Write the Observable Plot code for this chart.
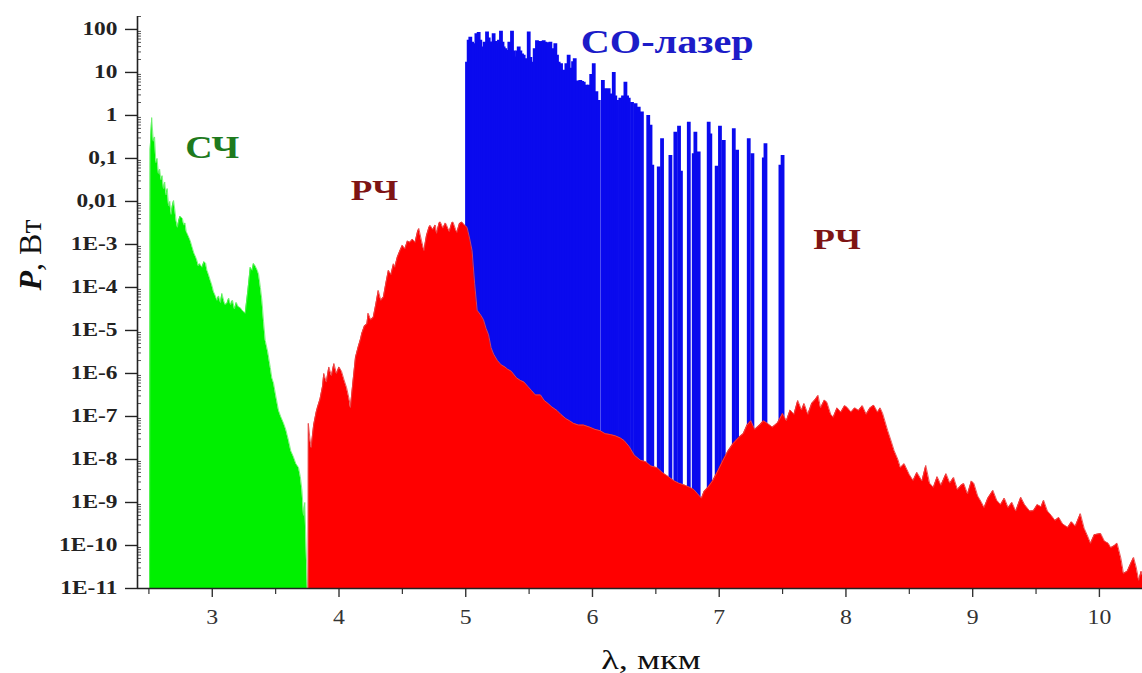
<!DOCTYPE html>
<html>
<head>
<meta charset="utf-8">
<script src="https://cdn.jsdelivr.net/npm/d3@7"></script>
<script src="https://cdn.jsdelivr.net/npm/@observablehq/plot@0.6"></script>
<style>
  html, body { margin: 0; padding: 0; background: #fff; }
  svg { display: block; }
</style>
</head>
<body>
<div id="chart"></div>
<script>
// Emission spectra: [wavelength, µm ; log10 of power, W]
// СЧ — sum-frequency band
const sumFreq = [
  [2.505,-11],[2.510,-0.8],[2.522,-0.05],[2.535,-0.6],[2.545,-0.5],[2.555,-1.1],[2.565,-1.0],
  [2.575,-1.35],[2.585,-1.25],[2.595,-1.5],[2.605,-1.4],[2.615,-1.7],[2.625,-1.55],[2.635,-1.85],
  [2.645,-1.7],[2.655,-2.1],[2.665,-2.0],[2.675,-2.3],[2.685,-2.1],[2.695,-1.98],[2.705,-2.2],
  [2.715,-2.45],[2.725,-2.6],[2.735,-2.45],[2.745,-2.35],[2.755,-2.37],[2.765,-2.4],[2.775,-2.55],
  [2.785,-2.5],[2.795,-2.7],[2.81,-2.8],[2.826,-2.91],[2.84,-3.05],[2.855,-3.2],[2.87,-3.3],
  [2.879,-3.37],[2.89,-3.5],[2.90,-3.45],[2.919,-3.53],[2.935,-3.4],[2.948,-3.44],[2.958,-3.6],
  [2.97,-3.7],[2.985,-3.84],[2.997,-3.95],[3.01,-4.1],[3.025,-4.2],[3.037,-4.3],[3.05,-4.2],
  [3.065,-4.35],[3.076,-4.14],[3.09,-4.3],[3.10,-4.4],[3.116,-4.37],[3.13,-4.25],[3.145,-4.4],
  [3.16,-4.3],[3.175,-4.5],[3.19,-4.35],[3.205,-4.45],[3.221,-4.47],[3.24,-4.55],[3.26,-4.6],
  [3.28,-4.1],[3.30,-3.53],[3.315,-3.6],[3.325,-3.44],[3.339,-3.5],[3.355,-3.6],[3.366,-3.7],
  [3.38,-4.0],[3.392,-4.3],[3.405,-4.8],[3.418,-5.23],[3.438,-5.5],[3.458,-5.86],[3.47,-6.1],
  [3.484,-6.23],[3.50,-6.5],[3.523,-6.86],[3.54,-7.0],[3.563,-7.16],[3.58,-7.3],[3.602,-7.56],
  [3.62,-7.8],[3.642,-7.95],[3.66,-8.1],[3.681,-8.19],[3.695,-8.4],[3.708,-8.72],[3.72,-9.3],
  [3.73,-9.0],[3.745,-10.5],[3.75,-11]
];

// РЧ — difference-frequency band
const diffFreq = [
  [3.757,-11],[3.758,-7.16],[3.77,-7.5],[3.78,-7.72],[3.80,-7.2],[3.82,-6.9],[3.83,-6.79],
  [3.85,-6.6],[3.87,-6.3],[3.88,-6.0],[3.90,-6.2],[3.92,-5.85],[3.94,-6.05],[3.96,-5.77],
  [3.98,-6.0],[4.00,-5.85],[4.02,-5.95],[4.04,-6.15],[4.06,-6.33],[4.08,-6.6],[4.09,-6.79],
  [4.11,-6.2],[4.13,-5.63],[4.15,-5.4],[4.17,-5.2],[4.18,-5.07],[4.20,-4.9],[4.22,-4.85],
  [4.23,-4.6],[4.25,-4.75],[4.27,-4.7],[4.29,-4.4],[4.31,-4.07],[4.33,-4.3],[4.35,-4.23],
  [4.37,-3.9],[4.39,-3.6],[4.41,-3.7],[4.43,-3.45],[4.44,-3.53],[4.46,-3.3],[4.48,-3.15],
  [4.50,-3.02],[4.52,-3.1],[4.54,-2.92],[4.56,-2.95],[4.58,-2.88],[4.60,-2.95],[4.62,-2.7],
  [4.63,-2.63],[4.65,-2.9],[4.67,-3.14],[4.69,-2.8],[4.71,-2.6],[4.72,-2.56],[4.74,-2.65],
  [4.76,-2.55],[4.77,-2.74],[4.79,-2.5],[4.80,-2.48],[4.82,-2.62],[4.84,-2.5],[4.85,-2.56],
  [4.87,-2.7],[4.89,-2.5],[4.90,-2.48],[4.92,-2.65],[4.93,-2.72],[4.95,-2.52],[4.97,-2.48],
  [4.99,-2.55],[5.01,-2.6],[5.03,-2.85],[5.05,-3.14],[5.07,-3.9],[5.09,-4.53],[5.12,-4.65],
  [5.14,-4.75],[5.16,-4.95],[5.18,-5.1],[5.20,-5.4],[5.22,-5.55],[5.25,-5.7],[5.28,-5.8],
  [5.31,-5.85],[5.33,-5.9],[5.36,-5.95],[5.40,-6.1],[5.43,-6.16],[5.46,-6.2],[5.49,-6.3],
  [5.52,-6.4],[5.55,-6.5],[5.59,-6.5],[5.62,-6.63],[5.65,-6.7],[5.68,-6.78],[5.72,-6.86],
  [5.75,-6.95],[5.79,-7.05],[5.82,-7.1],[5.85,-7.16],[5.89,-7.2],[5.93,-7.2],[5.98,-7.25],
  [6.02,-7.3],[6.06,-7.33],[6.10,-7.4],[6.14,-7.42],[6.18,-7.45],[6.22,-7.5],[6.25,-7.56],
  [6.29,-7.7],[6.33,-7.9],[6.38,-8.02],[6.42,-8.05],[6.46,-8.15],[6.51,-8.19],[6.55,-8.3],
  [6.60,-8.4],[6.64,-8.49],[6.68,-8.55],[6.73,-8.6],[6.77,-8.65],[6.80,-8.7],[6.83,-8.8],
  [6.86,-8.9],[6.88,-8.75],[6.91,-8.65],[6.95,-8.49],[6.99,-8.26],[7.03,-8.02],[7.07,-7.8],
  [7.11,-7.63],[7.15,-7.5],[7.19,-7.4],[7.22,-7.2],[7.25,-7.1],[7.28,-7.3],[7.32,-7.2],
  [7.35,-7.1],[7.38,-7.16],[7.42,-7.25],[7.46,-7.15],[7.50,-6.93],[7.53,-7.1],[7.56,-6.85],
  [7.59,-6.95],[7.62,-6.63],[7.65,-6.85],[7.67,-6.7],[7.70,-6.95],[7.73,-6.7],[7.76,-6.6],
  [7.78,-6.51],[7.80,-6.8],[7.83,-6.62],[7.85,-6.67],[7.88,-6.95],[7.90,-7.02],[7.93,-6.8],
  [7.96,-6.9],[7.99,-6.75],[8.01,-6.79],[8.04,-6.9],[8.07,-6.8],[8.10,-6.86],[8.13,-6.75],
  [8.16,-6.95],[8.19,-6.8],[8.22,-6.74],[8.25,-6.9],[8.27,-6.8],[8.29,-6.93],[8.33,-7.33],
  [8.36,-7.6],[8.38,-7.79],[8.41,-8.0],[8.43,-8.19],[8.46,-8.1],[8.50,-8.35],[8.53,-8.49],
  [8.56,-8.3],[8.60,-8.5],[8.63,-8.14],[8.66,-8.55],[8.69,-8.65],[8.72,-8.4],[8.75,-8.6],
  [8.79,-8.33],[8.82,-8.55],[8.85,-8.42],[8.88,-8.7],[8.91,-8.6],[8.93,-8.56],[8.96,-8.8],
  [8.99,-8.5],[9.01,-8.56],[9.04,-8.85],[9.07,-9.0],[9.09,-9.12],[9.12,-8.9],[9.16,-8.72],
  [9.19,-8.95],[9.22,-9.05],[9.25,-8.9],[9.28,-9.12],[9.31,-9.0],[9.34,-9.2],[9.38,-8.88],
  [9.41,-9.05],[9.45,-9.2],[9.48,-9.19],[9.51,-9.05],[9.54,-9.1],[9.56,-8.95],[9.59,-9.2],
  [9.62,-9.3],[9.65,-9.42],[9.68,-9.35],[9.71,-9.5],[9.75,-9.58],[9.78,-9.45],[9.81,-9.55],
  [9.85,-9.26],[9.88,-9.6],[9.91,-9.8],[9.93,-9.95],[9.96,-9.75],[10.01,-9.72],[10.04,-9.9],
  [10.07,-9.95],[10.09,-10.05],[10.12,-10.0],[10.14,-9.95],[10.17,-10.3],[10.19,-10.65],
  [10.22,-10.6],[10.25,-10.4],[10.27,-10.28],[10.29,-10.5],[10.31,-10.81],[10.33,-10.6],[10.34,-10.7]
];

// CO-laser lines: [wavelength, µm ; log10 of line power, W]
const coLines = [
  [5.010,1.24],[5.023,1.75],[5.036,1.82],[5.050,1.70],[5.063,1.67],[5.084,1.90],[5.102,1.93],
  [5.115,1.75],[5.128,1.59],[5.149,1.70],[5.168,1.94],[5.181,1.80],[5.194,1.71],[5.207,1.60],
  [5.220,1.90],[5.235,1.72],[5.247,1.67],[5.262,1.75],[5.278,1.96],[5.290,1.70],[5.299,1.59],
  [5.312,1.55],[5.326,1.51],[5.344,1.70],[5.365,1.96],[5.378,1.50],[5.391,1.36],[5.405,1.50],
  [5.418,1.59],[5.431,1.50],[5.444,1.43],[5.457,1.40],[5.470,1.32],[5.484,1.30],[5.497,1.94],
  [5.510,1.35],[5.523,1.24],[5.544,1.55],[5.562,1.74],[5.575,1.72],[5.589,1.70],[5.602,1.72],
  [5.615,1.74],[5.628,1.70],[5.641,1.67],[5.655,1.69],[5.668,1.70],[5.689,1.55],[5.707,1.67],
  [5.720,1.40],[5.733,1.24],[5.752,1.20],[5.773,1.05],[5.794,1.20],[5.812,1.40],[5.833,1.10],
  [5.847,1.25],[5.860,1.32],[5.883,0.80],[5.904,0.81],[5.918,0.79],[5.931,0.77],[5.952,0.70],
  [5.970,0.70],[5.990,0.95],[6.010,1.20],[6.031,0.55],[6.050,0.35],[6.082,0.81],[6.100,0.62],
  [6.128,0.62],[6.147,0.50],[6.168,1.00],[6.180,0.45],[6.194,0.35],[6.220,0.40],[6.241,0.45],
  [6.260,0.77],[6.273,0.45],[6.286,0.40],[6.312,0.30],
  [6.340,0.27],[6.365,0.19],[6.390,0.08],[6.440,0.00],[6.458,-0.23],[6.472,-1.16],[6.523,-1.20],
  [6.549,-0.54],[6.615,-0.93],[6.654,-0.39],[6.683,-0.25],[6.698,-1.30],[6.760,-0.16],[6.799,-0.89],
  [6.812,-0.39],[6.838,-0.85],[6.917,-0.16],[6.930,-0.43],[6.980,-1.18],[7.006,-0.25],[7.036,-0.58],
  [7.115,-0.31],[7.141,-0.81],[7.233,-0.54],[7.262,-0.89],[7.352,-0.99],[7.365,-0.66],[7.483,-1.16],
  [7.500,-0.93]
];

// Axis ticks
const xTicks = [3, 4, 5, 6, 7, 8, 9, 10];
const xHalfTicks = [2.5, 3.5, 4.5, 5.5, 6.5, 7.5, 8.5, 9.5];
const yTickExponents = [2, 1, 0, -1, -2, -3, -4, -5, -6, -7, -8, -9, -10, -11];
const yTickLabels = ["100", "10", "1", "0,1", "0,01", "1E-3", "1E-4", "1E-5", "1E-6",
                     "1E-7", "1E-8", "1E-9", "1E-10", "1E-11"];

// Band annotations: [text, wavelength, log10 power]
const bandNames = ["СЧ", "РЧ", "РЧ", "СО-лазер"];
const bandAt = [[3.0, -0.77], [4.28, -1.74], [7.93, -2.88], [6.59, 1.70]];

const xDomain = [2.41, 10.34];
const yBottom = 1e-11;
const P = d => 10 ** d[1];
const serif = "'Liberation Serif', 'Times New Roman', Times, serif";

const yMinor = [];
for (let k = -11; k <= 2; k++) for (let m = 2; m <= 9; m++) if (m * 10 ** k <= 200) yMinor.push(m * 10 ** k);

const labelRows = bandNames.map((t, i) => ({text: t, x: bandAt[i][0], y: 10 ** bandAt[i][1], i}));
const labelColor = ["#1e7a1e", "#7e1414", "#7e1414", "#1c1cc8"];
const labelSize = [31, 29, 29, 33];

const chart = Plot.plot({
  width: 1142,
  height: 673,
  marginLeft: 137,
  marginRight: 0,
  marginTop: 16,
  marginBottom: 85,
  style: {fontFamily: serif, background: "#fff"},
  x: {domain: xDomain},
  y: {type: "log", domain: [yBottom, 200]},
  marks: [
    Plot.areaY(sumFreq, {x: d => d[0], y1: yBottom, y2: P, fill: "#00f000"}),
    Plot.lineY(sumFreq, {x: d => d[0], y: P, stroke: "#66f066", strokeWidth: 0.8}),
    Plot.ruleX(coLines, {x: d => d[0], y1: yBottom, y2: P, stroke: "#0a0aee", strokeWidth: 3.8}),
    Plot.areaY(diffFreq, {x: d => d[0], y1: yBottom, y2: P, fill: "#ff0000"}),
    Plot.lineY(diffFreq, {x: d => d[0], y: P, stroke: "#e84848", strokeWidth: 0.9}),

    // axes
    Plot.axisX({ticks: xTicks, tickSize: 9, tickPadding: 11, fontSize: 22, fill: "#333",
                stroke: "#333", strokeWidth: 1.4, label: null, fontFamily: serif}),
    Plot.axisX({ticks: xHalfTicks, tickSize: 6, tickFormat: () => "", label: null,
                stroke: "#333", strokeWidth: 1.2}),
    Plot.axisY({ticks: yTickExponents.map(e => 10 ** e), tickSize: 12, tickPadding: 8,
                tickFormat: v => yTickLabels[yTickExponents.indexOf(Math.round(Math.log10(v)))],
                fontSize: 18, fontWeight: "bold", fill: "#222", stroke: "#222", strokeWidth: 1.4,
                label: null, fontFamily: serif}),
    Plot.axisY({ticks: yMinor, tickSize: 4, dx: 4, tickFormat: () => "", label: null,
                stroke: "#444", strokeWidth: 0.9}),
    Plot.ruleX([xDomain[0]], {stroke: "#222", strokeWidth: 1.6}),
    Plot.ruleY([yBottom], {stroke: "#222", strokeWidth: 1.6}),

    // band names
    Plot.text(labelRows, {x: "x", y: "y", text: "text", fontWeight: "bold", fontFamily: serif,
      fill: d => labelColor[d.i], fontSize: d => labelSize[d.i], className: "band-label"}),

    // axis titles
    Plot.text(["λ, мкм"], {frameAnchor: "bottom", dx: 11, dy: 80, lineAnchor: "bottom",
      fontSize: 28, fill: "#111", fontFamily: serif, className: "x-title"}),
    Plot.text(["P, Вт"], {frameAnchor: "left", dx: -107, dy: -12, rotate: -90,
      fontSize: 32, fill: "#111", fontFamily: serif, className: "y-title"})
  ]
});

document.getElementById("chart").appendChild(chart);

// Times-style lettering in this figure is set wide
const root = d3.select(chart);
function widen(selection, factor) {
  selection.each(function () {
    const w = this.getComputedTextLength();
    d3.select(this).attr("textLength", w * factor).attr("lengthAdjust", "spacingAndGlyphs");
  });
}
widen(root.selectAll('g[aria-label="y-axis tick label"] text'), 1.3);
widen(root.selectAll('g[aria-label="x-axis tick label"] text'), 1.08);
widen(root.selectAll(".band-label text"), 1.22);
widen(root.selectAll(".x-title text"), 1.3);

// italic bold symbol in the y title
root.selectAll(".y-title text").html('<tspan font-style="italic" font-weight="bold">P</tspan>, Вт');
</script>
</body>
</html>
